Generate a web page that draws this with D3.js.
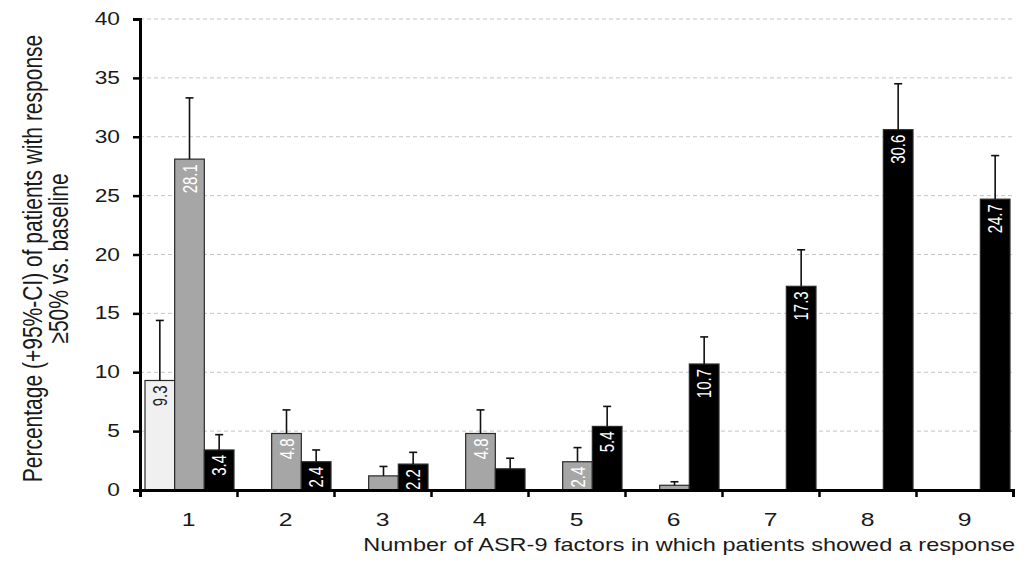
<!DOCTYPE html>
<html>
<head>
<meta charset="utf-8">
<title>ASR-9 response</title>
<script src="https://d3js.org/d3.v7.min.js"></script>
<style>
    body { margin: 0; background: #fff; }
    text { font-family: Arial, "Liberation Sans", sans-serif; fill: #1a1a1a; }
    .grid line { stroke: #c4c4c4; stroke-dasharray: 4,3; stroke-width: 1; }
    .bar-label { font-size: 15px; }
</style>
</head>
<body>
<svg width="1030" height="563"></svg>
<script>
// categories: number of ASR-9 factors
var categories = ["1", "2", "3", "4", "5", "6", "7", "8", "9"];
var seriesNames = ["light", "gray", "black"];

// percentages per series (null = no bar)
var lightValues = [9.3, null, null, null, null, null, null, null, null];
var grayValues  = [28.1, 4.8, 1.2, 4.8, 2.4, 0.4, null, null, null];
var blackValues = [3.4, 2.4, 2.2, 1.8, 5.4, 10.7, 17.3, 30.6, 24.7];

// upper 95%-CI
var lightUpper = [14.4, null, null, null, null, null, null, null, null];
var grayUpper  = [33.3, 6.8, 2.0, 6.8, 3.6, 0.7, null, null, null];
var blackUpper = [4.7, 3.4, 3.2, 2.7, 7.1, 13.0, 20.4, 34.5, 28.4];

// which bars carry a value label
var lightLabels = ["9.3", null, null, null, null, null, null, null, null];
var grayLabels  = ["28.1", "4.8", null, "4.8", "2.4", null, null, null, null];
var blackLabels = ["3.4", "2.4", "2.2", null, "5.4", "10.7", "17.3", "30.6", "24.7"];

var yTicks = [0, 5, 10, 15, 20, 25, 30, 35, 40];

var colors = { light: "#f0f0f0", gray: "#a6a6a6", black: "#000" };
var labelColors = { light: "#222", gray: "#fff", black: "#fff" };

var series = [
    { name: "light", values: lightValues, upper: lightUpper, labels: lightLabels },
    { name: "gray", values: grayValues, upper: grayUpper, labels: grayLabels },
    { name: "black", values: blackValues, upper: blackUpper, labels: blackLabels }
];

// the original figure is stretched horizontally
var stretch = 1.3;

var svg = d3.select("svg");
var plotLeft = 140, plotRight = 1013, plotTop = 19, plotBottom = 490;

var x = d3.scaleBand().domain(categories).range([plotLeft, plotRight]).padding(0);
var xEdge = d3.scaleLinear().domain([0, categories.length]).range([plotLeft, plotRight]);
var inner = d3.scaleBand().domain(seriesNames).range([5, x.bandwidth() - 3]).padding(0);
var y = d3.scaleLinear().domain([0, 40]).range([plotBottom, plotTop]);

function widen (sel, factor) {
    factor = factor || stretch;
    sel.each(function () {
        var len = this.getComputedTextLength();
        d3.select(this)
            .attr("textLength", len * factor)
            .attr("lengthAdjust", "spacingAndGlyphs");
    });
}

// gridlines
svg.append("g")
    .attr("class", "grid")
    .selectAll("line")
    .data(yTicks.filter(d => d > 0))
    .enter().append("line")
    .attr("x1", plotLeft)
    .attr("x2", plotRight)
    .attr("y1", d => y(d))
    .attr("y2", d => y(d));

// flatten bars
var bars = [];
series.forEach(s => {
    categories.forEach((c, i) => {
        if (s.values[i] != null) {
            bars.push({ series: s.name, cat: c, value: s.values[i], upper: s.upper[i], label: s.labels[i] });
        }
    });
});

function barMid (d) {
    return x(d.cat) + inner(d.series) + inner.bandwidth() / 2;
}

var barG = svg.append("g");

barG.selectAll("rect")
    .data(bars)
    .enter().append("rect")
    .attr("x", d => x(d.cat) + inner(d.series))
    .attr("width", inner.bandwidth())
    .attr("y", d => y(d.value))
    .attr("height", d => y(0) - y(d.value))
    .attr("fill", d => colors[d.series])
    .attr("stroke", "#2a2a2a")
    .attr("stroke-width", 1.2);

// value labels, rotated, near bar top
barG.selectAll(".bar-label")
    .data(bars.filter(d => d.label))
    .enter().append("text")
    .attr("class", "bar-label")
    .attr("text-anchor", "end")
    .attr("transform", d => "translate(" + (barMid(d) + 7) + "," + (y(d.value) + 5) + ") scale(" + stretch + ",1) rotate(-90)")
    .style("fill", d => labelColors[d.series])
    .text(d => d.label);

// error bars (upper CI only)
var err = barG.selectAll(".err")
    .data(bars)
    .enter().append("g")
    .attr("class", "err")
    .attr("stroke", "#111")
    .attr("stroke-width", 1.6);

err.append("line")
    .attr("x1", barMid)
    .attr("x2", barMid)
    .attr("y1", d => y(d.value))
    .attr("y2", d => y(d.upper));

err.append("line")
    .attr("x1", d => barMid(d) - 4)
    .attr("x2", d => barMid(d) + 4)
    .attr("y1", d => y(d.upper))
    .attr("y2", d => y(d.upper));

// y axis
var yAxis = svg.append("g")
    .attr("transform", "translate(" + plotLeft + ",0)")
    .call(d3.axisLeft(y).tickValues(yTicks).tickSize(7).tickPadding(13));
yAxis.select(".domain").attr("stroke", "#000").attr("stroke-width", 3);
yAxis.selectAll(".tick line").attr("stroke", "#000").attr("stroke-width", 2.5);
yAxis.selectAll(".tick text")
    .style("font-size", "17.5px")
    .style("fill", "#1a1a1a")
    .attr("font-family", null)
    .call(widen);

// x axis (boundary ticks)
var xAxis = svg.append("g")
    .attr("transform", "translate(0," + plotBottom + ")")
    .call(d3.axisBottom(xEdge).tickValues(d3.range(0, categories.length + 1)).tickSize(7).tickFormat(""));
xAxis.select(".domain").attr("stroke", "#000").attr("stroke-width", 3);
xAxis.selectAll(".tick line").attr("stroke", "#000").attr("stroke-width", 2.5);

// x category labels
var xLab = svg.append("g")
    .attr("transform", "translate(0," + plotBottom + ")")
    .call(d3.axisBottom(x).tickSize(0).tickPadding(22.5));
xLab.select(".domain").remove();
xLab.selectAll(".tick text")
    .style("font-size", "19px")
    .style("fill", "#1a1a1a")
    .attr("font-family", null)
    .call(widen);

// titles
svg.append("text")
    .attr("x", 1015)
    .attr("y", 551)
    .attr("text-anchor", "end")
    .style("font-size", "18.5px")
    .text("Number of ASR-9 factors in which patients showed a response")
    .call(widen, 1.27);

var yTitle = svg.append("text")
    .attr("transform", "translate(42," + ((plotTop + plotBottom) / 2 + 4) + ") scale(" + stretch + ",1) rotate(-90)")
    .attr("text-anchor", "middle")
    .style("font-size", "21px");
yTitle.append("tspan").attr("x", 0).attr("dy", 0).text("Percentage (+95%-CI) of patients with response");
yTitle.append("tspan").attr("x", 0).attr("dy", 20).text("\u226550% vs. baseline");
</script>
</body>
</html>
